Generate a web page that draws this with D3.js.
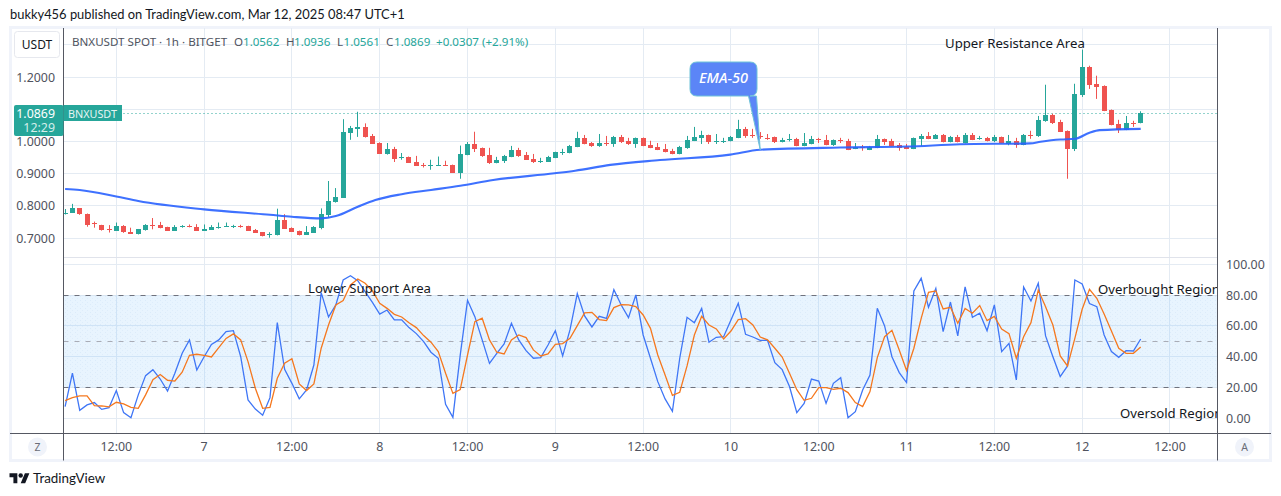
<!DOCTYPE html>
<html><head><meta charset="utf-8">
<script src="https://cdn.jsdelivr.net/npm/d3@7/dist/d3.min.js"></script>
<style>html,body{margin:0;padding:0;background:#fff;overflow:hidden}svg{display:block}text{font-family:"Noto Sans",sans-serif}</style>
</head><body><svg id="c" width="1281" height="496"></svg>
<script>
// Candles, one per hour, starting 6 Mar 05:00
const open=[.778,.778,.792,.774,.746,.740,.728,.723,.737,.719,.713,.725,.741,.740,.734,.723,.736,.738,.734,.723,.725,.732,.737,.736,.737,.737,.725,.718,.710,.708,.756,.731,.722,.711,.717,.732,.772,.812,.825,
1.026,1.040,1.045,1.017,.995,.961,.977,.950,.952,.936,.927,.925,.925,.926,.927,.902,.958,.992,.980,.958,.933,.940,.952,.974,.958,.946,.939,.937,.949,.967,.964,.983,1.011,.995,.986,.995,.992,1.014,1.000,.992,
1.011,.989,.983,.977,.971,.961,.980,1.002,1.011,1.020,1.000,1.001,1.001,1.011,1.039,1.020,1.018,1.012,1.014,.998,1.006,1.008,.986,.992,1.007,1.005,.989,1.005,1.002,.977,.983,.974,.980,1.008,1.002,.989,.983,.977,1.008,1.017,1.008,1.020,.998,1.014,
.995,1.020,1.010,1.011,1.002,1.014,.992,1.002,.989,1.019,1.017,1.064,1.082,1.061,1.033,.977,1.145,1.232,1.179,1.172,1.098,1.054,1.036,1.056,1.0562];
const high=[.790,.806,.793,.776,.751,.741,.740,.748,.740,.732,.728,.743,.762,.750,.735,.740,.740,.742,.743,.742,.740,.748,.748,.741,.741,.738,.728,.718,.718,.791,.774,.733,.723,.737,.737,.792,.877,.855,1.069,
1.048,1.092,1.056,1.023,.997,.995,.983,.964,.953,.955,.933,.943,.953,.940,.928,.987,.998,1.030,.981,.980,.952,.958,.986,.980,.967,.961,.949,.955,.968,.977,.989,1.030,1.020,.998,1.023,1.017,1.017,1.020,1.011,1.012,
1.012,1.002,.995,.992,.977,.986,1.017,1.045,1.033,1.021,1.023,1.011,1.017,1.067,1.045,1.039,1.029,1.023,1.015,1.011,1.023,1.011,1.026,1.017,1.011,1.020,1.006,1.011,1.008,.995,.989,.986,1.020,1.009,1.008,.995,.992,1.012,1.023,1.029,1.023,1.023,1.017,1.020,
1.026,1.026,1.017,1.014,1.020,1.015,1.020,1.011,1.023,1.033,1.079,1.176,1.086,1.067,1.034,1.179,1.285,1.235,1.204,1.174,1.099,1.067,1.079,1.064,1.0936];
const low=[.773,.778,.772,.735,.732,.723,.717,.722,.716,.714,.711,.723,.727,.730,.723,.722,.732,.733,.723,.723,.725,.729,.735,.731,.732,.723,.717,.705,.701,.708,.729,.720,.708,.711,.717,.727,.765,.810,.825,
1.005,1.014,1.012,.993,.962,.959,.936,.943,.933,.925,.919,.912,.924,.924,.902,.884,.957,.967,.952,.930,.932,.933,.951,.952,.943,.933,.933,.937,.948,.958,.963,.982,.991,.983,.983,.986,.983,.995,.989,.980,
.985,.979,.973,.966,.960,.960,.977,1.001,.992,.992,.992,.995,1.000,1.010,1.011,1.011,1.008,1.005,.995,.997,1.000,.985,.985,.991,.995,.988,.986,.995,.973,.976,.971,.973,.979,.989,.985,.971,.976,.976,.986,1.007,1.007,.997,.997,.997,
.994,1.004,1.005,1.000,.998,.994,.988,.980,.988,1.008,1.014,1.061,1.054,1.029,.884,.970,1.138,1.163,1.132,1.094,1.050,1.026,1.035,1.045,1.0561];
const close=[.779,.792,.772,.741,.744,.725,.727,.737,.717,.714,.727,.740,.739,.731,.723,.734,.737,.737,.723,.728,.734,.733,.738,.737,.736,.723,.717,.705,.711,.756,.729,.720,.711,.719,.735,.774,.815,.828,1.029,
1.042,1.045,1.015,.993,.962,.977,.947,.951,.933,.925,.925,.926,.926,.925,.902,.961,.992,.977,.955,.933,.943,.955,.974,.955,.943,.937,.940,.952,.967,.968,.986,1.011,.992,.986,.995,.994,1.014,.998,.992,1.011,
.986,.980,.974,.967,.961,.983,1.005,1.014,1.020,.998,1.001,1.002,1.014,1.039,1.017,1.018,1.016,1.010,.998,1.005,1.007,.986,.995,1.008,1.005,.989,1.005,1.004,.974,.983,.981,.983,1.008,.998,.986,.980,.977,1.011,1.017,1.008,1.020,.998,1.014,.998,
1.020,1.005,1.011,1.002,1.014,.995,1.002,.989,1.020,1.018,1.067,1.082,1.057,1.030,.977,1.148,1.232,1.176,1.170,1.095,1.051,1.036,1.057,1.054,1.0869];
// EMA-50, read at these candle indices
const emaAt=[0,2,7,10,19,28,31,35,37,40,42.4,46,50,54,58.5,66.9,69.7,74.5,81.3,90.9,95,105.9,115,122.3,131.9,133.3,136,138,140,141.4,147];
const emaVal=[.852,.849,.829,.815,.789,.772,.766,.761,.768,.797,.818,.836,.849,.862,.880,.901,.909,.927,.942,.959,.974,.981,.984,.991,.994,.999,1.006,1.008,1.027,1.035,1.039];
// Stochastic-style oscillator
const kLine=[7.6,29.4,5.2,8.7,10.2,5.8,6.9,18,3.7,.4,15.2,27.7,31.6,25.5,17.7,29.2,42.2,50.9,31.4,40,48,50.9,56.3,56.9,40,11.9,6,2,13.4,62.1,31.8,22.7,12.6,18.4,34.6,81.6,65.8,73.6,89.8,92.6,89.4,82.3,75.3,67.7,70.3,63.9,63.9,58.9,55,49.8,
42.9,39,9.1,.6,41,76.6,66,50.9,35.7,42.2,48.3,61.7,50.9,43.9,39,39.4,47.6,56.9,40.5,57.4,81,66.5,59.3,66.2,64.9,83.5,73.6,65.4,80.1,54.1,39,23.8,12.6,4.5,39,65.6,62.1,71.4,49.4,52.6,53,63.9,74.7,54.5,52.8,50.6,50.6,36.1,31.6,20.6,3.7,9.7,25.5,24.2,9.7,22.7,26.4,.4,
4.3,18.4,28.1,71.4,60,40,29.7,23.2,82.7,90.9,72.1,84.4,56.3,75.5,53.5,85.3,65.6,68.2,56.9,73.6,43.3,48.7,24.9,85.3,76.2,87.7,53.5,40,27.1,34,89.8,87.2,74.5,72.5,54.1,43.3,39.6,43.9,43.7,51.5];
const dLine=[11.5,13.4,14.5,14.5,8.2,8,7.4,10.4,9.3,7.1,6.5,15.2,25.1,28.4,24.7,24.2,29.9,40.9,41.6,40.9,39.8,45.9,51.9,54.8,50.9,36.8,19.5,6.5,7.1,26,35.7,38.7,22.3,18,22.3,45.5,60.6,73.6,76.4,86.6,90.5,87.7,82.7,74.7,71.4,67.5,65.8,62.1,58.9,53.7,
49.4,43.3,29.2,16.2,18.6,41.1,62.8,65,50.9,42.9,41.8,50.9,54.1,52.4,44.4,40.5,41.8,48,48.5,51.9,60.2,68.4,68.8,64.1,63.4,71.9,73.8,73.6,72.5,67.1,58.4,41.1,28.1,14.9,16.9,34,54.1,66.2,60.6,58,51.5,56.7,64.1,64.7,60.6,52.8,50.9,45.5,39.8,29.2,18.6,11.7,13,19.9,19.9,18.8,19.5,16.7,
10.2,7.6,17.3,39.4,53,57.1,44.4,31,45.5,64.9,81.8,82.7,71,72.1,61.7,71.4,68.2,73.2,63.4,66.2,58,55,39,53,62.1,83.3,72.5,60.6,40.5,34,51.9,70.8,83.8,77.9,67.7,56.7,45.5,42.2,42.2,46.3];
// Axes
const priceTicks=[1.3,1.2,1.1,1.0,.9,.8,.7];
const priceLabels=[1.2,1.1,1.0,.9,.8,.7];
const oscTicks=[100,80,60,40,20,0];
const timeAt=[7,19,31,43,55,67,79,91,103,115,127,139,151];
const timeLabels=["12:00","7","12:00","8","12:00","9","12:00","10","12:00","11","12:00","12","12:00"];

const C={dark:"#131722",axis:"#50535e",tick:"#6a6d78",line:"#555862",grid:"#e4ebf3",frame:"#f0f3fa",up:"#26a69a",dn:"#ef5350",ema:"#2962ff",k:"#3f76f6",d:"#f5781f"};
const L=63.5,R=1217.5,T=28,PB=257.5,AB=433.5,B=460.5;
const x=d3.scaleLinear().domain([0,147]).range([65.1,1140.7]);
const yP=d3.scaleLinear().domain([1,1.2]).range([141.4,77]);
const yO=d3.scaleLinear().domain([0,100]).range([418.3,264.3]);
const px=v=>Math.floor(v)+.5;
const svg=d3.select("#c");
const defs=svg.append("defs");
defs.append("clipPath").attr("id","cp").append("rect").attr("x",L).attr("y",T).attr("width",R-L).attr("height",PB-T);
defs.append("clipPath").attr("id","co").append("rect").attr("x",L).attr("y",PB).attr("width",R-L).attr("height",AB-PB);
const pat=defs.append("pattern").attr("id","dots").attr("width",5).attr("height",4).attr("patternUnits","userSpaceOnUse");
pat.append("rect").attr("width",1).attr("height",1).attr("fill","rgba(90,140,210,.09)");
pat.append("rect").attr("x",2).attr("y",2).attr("width",1).attr("height",1).attr("fill","rgba(90,140,210,.07)");

// frame
svg.append("rect").attr("x",10.5).attr("y",27.5).attr("width",1260).attr("height",433).attr("fill","#fff").attr("stroke",C.frame).attr("stroke-width",3);

svg.append("text").attr("x",10).attr("y",19).attr("font-size",12.9).attr("fill",C.dark).style("font-family","Lato")
 .text("bukky456 published on TradingView.com, Mar 12, 2025 08:47 UTC+1");

// grid
const g=svg.append("g");
g.selectAll(".vg").data(timeAt).join("line").attr("x1",d=>px(x(d))).attr("x2",d=>px(x(d))).attr("y1",T).attr("y2",AB).attr("stroke",C.grid);
g.selectAll(".hp").data(priceTicks).join("line").attr("x1",L).attr("x2",R).attr("y1",d=>px(yP(d))).attr("y2",d=>px(yP(d))).attr("stroke",C.grid);
g.selectAll(".ho").data(oscTicks).join("line").attr("x1",L).attr("x2",R).attr("y1",d=>px(yO(d))).attr("y2",d=>px(yO(d))).attr("stroke",C.grid);

// band
["rgba(33,150,243,.1)","url(#dots)"].forEach(f=>svg.append("rect").attr("x",L).attr("width",R-L).attr("y",px(yO(80))).attr("height",px(yO(20))-px(yO(80))).attr("fill",f));
svg.append("g").selectAll("line").data([40,60]).join("line").attr("x1",L).attr("x2",R).attr("y1",d=>px(yO(d))).attr("y2",d=>px(yO(d))).attr("stroke","#cfe3f6");
svg.append("g").selectAll("line").data(timeAt).join("line").attr("x1",d=>px(x(d))).attr("x2",d=>px(x(d))).attr("y1",yO(80)).attr("y2",yO(20)).attr("stroke","#cfe3f6");
svg.append("g").selectAll("line").data([80,50,20]).join("line").attr("x1",L).attr("x2",R).attr("y1",d=>px(yO(d))).attr("y2",d=>px(yO(d)))
 .attr("stroke",d=>d==50?"#a9acb6":"#6f727d").attr("stroke-dasharray","5,6");

// current price dotted
svg.append("line").attr("x1",L).attr("x2",R).attr("y1",px(yP(close[147]))).attr("y2",px(yP(close[147]))).attr("stroke",C.up).attr("stroke-dasharray","1,3");

// separators
svg.append("line").attr("x1",L).attr("x2",R).attr("y1",PB).attr("y2",PB).attr("stroke","#e0e3eb");

// candles
const cg=svg.append("g").attr("clip-path","url(#cp)");
const idx=d3.range(open.length);
const col=i=>close[i]>=open[i]?C.up:C.dn;
cg.selectAll(".w").data(idx).join("line").attr("x1",i=>px(x(i))).attr("x2",i=>px(x(i))).attr("y1",i=>yP(high[i])).attr("y2",i=>yP(low[i])).attr("stroke",col);
cg.selectAll(".b").data(idx).join("rect").attr("x",i=>Math.floor(x(i))-2).attr("width",5)
 .attr("y",i=>Math.round(yP(Math.max(open[i],close[i])))).attr("height",i=>Math.max(1,Math.round(Math.abs(yP(open[i])-yP(close[i]))))).attr("fill",col);

// EMA
cg.append("path").attr("d",d3.line().x((d,i)=>x(emaAt[i])).y(d=>yP(d)).curve(d3.curveMonotoneX)(emaVal)).attr("fill","none").attr("stroke",C.ema).attr("stroke-width",2.1).attr("opacity",.9);

// oscillator
const og=svg.append("g").attr("clip-path","url(#co)");
const ol=d3.line().x((d,i)=>x(i)).y(d=>yO(d));
og.append("path").attr("d",ol(kLine)).attr("fill","none").attr("stroke",C.k).attr("stroke-width",1.3);
og.append("path").attr("d",ol(dLine)).attr("fill","none").attr("stroke",C.d).attr("stroke-width",1.3);

// annotations
const notes=[["Upper Resistance Area",945,48],["Lower Support Area",308,293],["Overbought Region",1098,294],["Oversold Region",1120,418]];
const ng=svg.append("g");
ng.append("defs").append("clipPath").attr("id","cn").append("rect").attr("x",L).attr("y",T).attr("width",R-L).attr("height",AB-T);
ng.attr("clip-path","url(#cn)").selectAll("text").data(notes).join("text").attr("x",d=>d[1]).attr("y",d=>d[2]).attr("font-size",13.2).attr("fill",C.dark).text(d=>d[0]);

// EMA callout
const tipX=x(95),tipY=yP(.974);
svg.append("path").attr("d",`M697,62H750Q757,62 757,69V89Q757,96 750,96H756.5L${tipX},${tipY}L748.5,96H697Q690,96 690,89V69Q690,62 697,62Z`)
 .attr("fill","#5b85f7").attr("stroke","#6fc3d8").attr("stroke-width",1);
svg.append("text").attr("x",723.5).attr("y",83).attr("text-anchor","middle").attr("font-size",14.5).attr("font-style","italic").attr("font-weight",500).attr("fill","#fff").text("EMA-50");

// axis lines
svg.append("line").attr("x1",L).attr("x2",L).attr("y1",T).attr("y2",B).attr("stroke",C.line);
svg.append("line").attr("x1",R).attr("x2",R).attr("y1",T).attr("y2",B).attr("stroke",C.line);
svg.append("line").attr("x1",10).attr("x2",1271).attr("y1",AB).attr("y2",AB).attr("stroke",C.line);

// price labels
svg.append("g").selectAll("text").data(priceLabels).join("text").attr("x",55).attr("y",d=>yP(d)+4.5).attr("text-anchor","end").attr("font-size",12.4).attr("fill",C.axis).text(d=>d.toFixed(4));
// oscillator labels
svg.append("g").selectAll("text").data(oscTicks).join("text").attr("x",1226).attr("y",d=>yO(d)+4.5).attr("font-size",12.4).attr("fill",C.axis).text(d=>d.toFixed(2));
// time labels
svg.append("g").selectAll("text").data(timeAt).join("text").attr("x",d=>x(d)).attr("y",451).attr("text-anchor","middle").attr("font-size",12.4).attr("fill",C.axis).text((d,i)=>timeLabels[i]);

// price tags
svg.append("rect").attr("x",14).attr("y",105).attr("width",49.5).attr("height",31).attr("rx",2).attr("fill",C.up);
svg.append("rect").attr("x",63.5).attr("y",105).attr("width",58.5).attr("height",16).attr("fill",C.up);
svg.append("text").attr("x",55).attr("y",118).attr("text-anchor","end").attr("font-size",12.4).attr("fill","#fff").text(close[147].toFixed(4));
svg.append("text").attr("x",55).attr("y",132).attr("text-anchor","end").attr("font-size",12.4).attr("fill","#d4eeeb").text("12:29");
svg.append("text").attr("x",68).attr("y",117.5).attr("font-size",10.8).attr("fill","#e6f5f3").text("BNXUSDT");

// USDT button
svg.append("rect").attr("x",14.5).attr("y",31.5).attr("width",45).attr("height",26).attr("rx",3).attr("fill","#fff").attr("stroke","#e6e8ee");
svg.append("text").attr("x",37).attr("y",49).attr("text-anchor","middle").attr("font-size",12).attr("fill",C.dark).text("USDT");

// legend
const lg=[["BNXUSDT SPOT · 1h · BITGET",72,C.axis],["O",234,C.axis],["1.0562",243,C.up],["H",286,C.axis],["1.0936",294,C.up],["L",337,C.axis],["1.0561",343.5,C.up],["C",386,C.axis],["1.0869",394,C.up],["+0.0307 (+2.91%)",436,C.up]];
svg.append("g").selectAll("text").data(lg).join("text").attr("x",d=>d[1]).attr("y",46).attr("font-size",11.6).attr("fill",d=>d[2]).text(d=>d[0]);

// corner buttons
[["Z",37.5],["A",1244.5]].forEach(d=>{
 svg.append("circle").attr("cx",d[1]).attr("cy",447).attr("r",9.5).attr("fill",C.frame);
 svg.append("text").attr("x",d[1]).attr("y",451).attr("text-anchor","middle").attr("font-size",10.5).attr("fill",C.tick).text(d[0]);
});

// footer
const lo=svg.append("g").attr("transform","translate(9.5,471) scale(.56)").attr("fill",C.dark);
lo.append("path").attr("d","M14 22H7V11H0V4h14v18zM28 22h-8l7.5-18h8L28 22z");
lo.append("circle").attr("cx",20).attr("cy",8).attr("r",4);
svg.append("text").attr("x",33).attr("y",483).attr("font-size",13.4).attr("fill",C.dark).style("font-family","Lato").text("TradingView");
</script></body></html>
